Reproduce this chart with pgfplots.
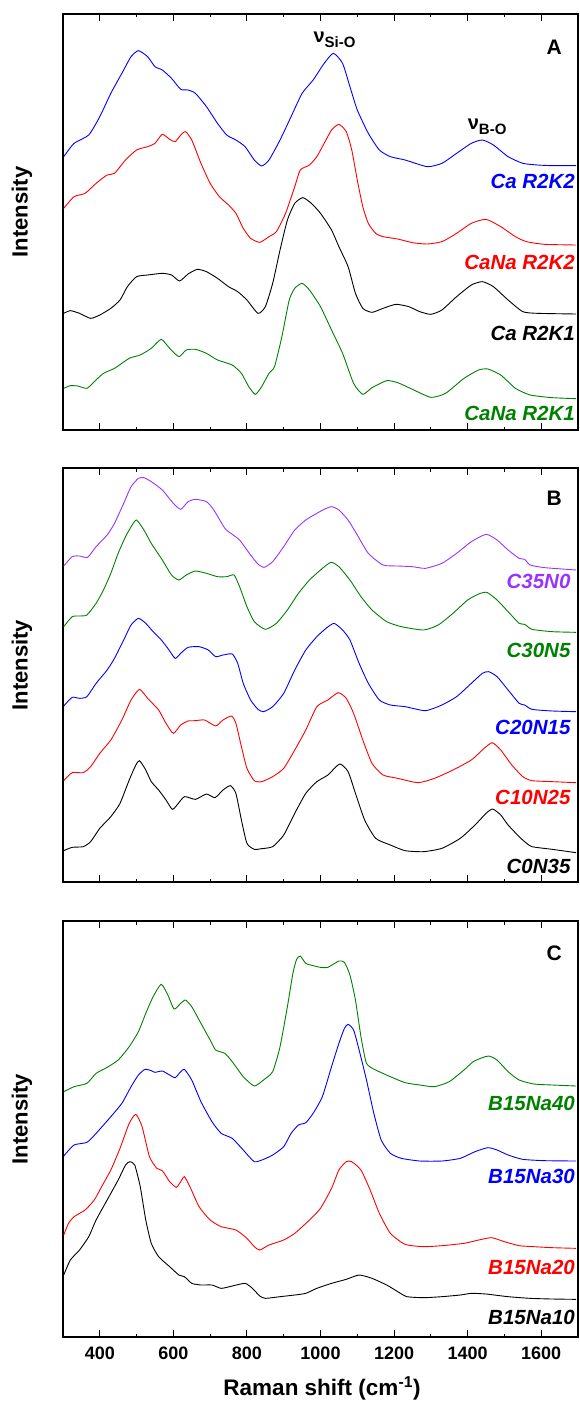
\documentclass[border=0pt]{standalone}
\usepackage{fontspec}
\setmainfont{Liberation Sans}
\usepackage{pgfplots}
\pgfplotsset{compat=1.18}

\definecolor{rblue}{RGB}{0,0,255}
\definecolor{rred}{RGB}{255,0,0}
\definecolor{rgreen}{RGB}{0,128,0}
\definecolor{rpurple}{RGB}{153,51,255}

\pgfplotsset{
  panel/.style={
    scale only axis, width=515pt,
    xmin=300, xmax=1700, ymin=0,
    xtick distance=200, minor x tick num=1,
    ytick=\empty,
    major tick length=7pt, minor tick length=3.5pt,
    axis line style={line width=1.3pt},
    every tick/.style={line width=1.1pt, black},
    every axis plot/.append style={line width=0.9pt, no marks, smooth, tension=0.35},
  },
}
\tikzset{
  lab/.style={font=\fontsize{20.5}{20.5}\selectfont\bfseries\itshape, anchor=east, inner sep=0pt},
  plab/.style={font=\fontsize{21}{21}\selectfont\bfseries, inner sep=0pt},
}

\begin{document}
\begin{tikzpicture}
\useasboundingbox (-63pt,14pt) rectangle (516pt,-1393pt);

% ---------- panel A ----------
\begin{axis}[panel, height=416pt, ymax=1248, at={(0pt,0pt)}, anchor=north west, xticklabels={}]
\addplot[rblue] coordinates {(302,820) (330,860) (370,885) (400,940) (430,1010) (460,1070) (485,1120) (505,1138) (530,1120) (550,1090) (570,1080) (595,1055) (620,1022) (640,1020) (660,1010) (690,970) (720,920) (745,885) (770,870) (795,850) (820,810) (840,792) (860,810) (890,870) (920,940) (950,1010) (980,1050) (1010,1100) (1035,1130) (1060,1100) (1080,1030) (1100,960) (1130,890) (1160,840) (1190,820) (1230,810) (1290,790) (1330,800) (1370,830) (1410,860) (1440,870) (1470,855) (1510,820) (1550,800) (1590,795) (1630,793) (1695,793)};
\addplot[rred] coordinates {(302,665) (330,700) (360,710) (390,740) (420,765) (440,770) (470,810) (500,840) (530,850) (550,860) (570,887) (590,872) (605,865) (620,885) (633,895) (650,870) (675,800) (700,740) (725,700) (750,675) (770,650) (790,605) (810,575) (835,563) (860,580) (880,595) (905,650) (930,730) (945,780) (970,795) (990,820) (1010,860) (1030,900) (1050,917) (1070,895) (1085,840) (1100,750) (1115,670) (1130,620) (1150,590) (1170,580) (1210,573) (1250,562) (1290,558) (1330,565) (1370,590) (1410,620) (1450,632) (1490,610) (1530,580) (1560,565) (1610,557) (1695,555)};
\addplot[black] coordinates {(302,350) (320,358) (345,350) (375,335) (400,345) (430,365) (455,390) (475,430) (500,460) (530,465) (570,470) (595,465) (617,447) (640,468) (665,482) (690,475) (720,455) (750,430) (775,415) (800,390) (830,350) (850,370) (870,440) (890,540) (910,630) (930,680) (952,697) (975,680) (1000,650) (1030,600) (1050,550) (1075,490) (1095,410) (1115,365) (1140,353) (1170,365) (1205,377) (1240,370) (1270,355) (1300,347) (1330,360) (1370,400) (1410,435) (1440,445) (1470,430) (1510,390) (1550,355) (1590,350) (1695,348)};
\addplot[rgreen] coordinates {(302,125) (320,133) (340,132) (365,125) (385,145) (410,170) (440,185) (480,215) (510,225) (540,245) (567,272) (590,245) (615,220) (635,240) (660,242) (690,230) (720,210) (760,195) (785,170) (805,130) (823,107) (840,130) (860,170) (875,190) (895,280) (915,390) (930,425) (950,440) (970,420) (1000,370) (1030,300) (1060,230) (1090,140) (1115,107) (1140,127) (1180,148) (1210,142) (1250,122) (1300,98) (1340,110) (1390,155) (1430,180) (1455,183) (1490,165) (1530,125) (1570,105) (1630,97) (1695,94)};
\node[lab, text=rblue] at (axis cs:1692,747) {Ca R2K2};
\node[lab, text=rred] at (axis cs:1692,504) {CaNa R2K2};
\node[lab, text=black] at (axis cs:1692,291) {Ca R2K1};
\node[lab, text=rgreen] at (axis cs:1692,51) {CaNa R2K1};
\node[plab] at (axis cs:1635,1149) {A};
\node[font=\fontsize{20}{20}\selectfont\bfseries, inner sep=0pt] at (axis cs:1038,1171) {ν{\fontsize{15}{15}\selectfont\raisebox{-5pt}{Si-O}}};
\node[font=\fontsize{20}{20}\selectfont\bfseries, inner sep=0pt] at (axis cs:1453,909) {ν{\fontsize{15}{15}\selectfont\raisebox{-5pt}{B-O}}};
\end{axis}

% ---------- panel B ----------
\begin{axis}[panel, height=414pt, ymax=1242, at={(0pt,-454pt)}, anchor=north west, xticklabels={}]
\addplot[rpurple] coordinates {(302,948) (325,976) (345,978) (367,974) (390,1006) (420,1041) (440,1076) (465,1136) (485,1186) (505,1211) (520,1213) (540,1201) (570,1176) (600,1136) (620,1118) (640,1141) (660,1148) (690,1141) (710,1116) (740,1061) (760,1043) (780,1026) (810,981) (830,954) (847,944) (870,961) (900,1006) (930,1056) (960,1086) (990,1106) (1010,1118) (1030,1126) (1050,1116) (1075,1086) (1100,1041) (1130,986) (1170,951) (1210,948) (1250,946) (1285,941) (1330,956) (1370,986) (1410,1021) (1450,1043) (1480,1026) (1510,996) (1540,971) (1555,968) (1570,951) (1610,943) (1695,936)};
\addplot[rgreen] coordinates {(302,766) (325,796) (345,798) (365,801) (390,836) (410,876) (430,926) (450,986) (470,1036) (488,1071) (500,1086) (520,1056) (540,1016) (570,966) (595,921) (615,906) (635,921) (660,933) (690,926) (720,916) (745,916) (765,921) (780,886) (800,826) (820,781) (850,758) (880,776) (910,816) (940,866) (970,906) (1000,936) (1028,959) (1050,946) (1080,906) (1110,856) (1140,816) (1180,781) (1220,766) (1280,756) (1320,771) (1360,806) (1400,846) (1430,864) (1452,869) (1480,846) (1510,811) (1540,776) (1555,773) (1575,758) (1630,751) (1695,749)};
\addplot[rblue] coordinates {(302,528) (325,554) (345,551) (365,556) (390,596) (420,636) (440,671) (465,726) (485,771) (505,791) (525,776) (545,751) (565,729) (585,701) (605,671) (620,686) (640,704) (670,706) (695,696) (715,676) (735,681) (760,684) (775,656) (790,596) (810,546) (830,518) (845,511) (870,526) (900,566) (930,636) (960,696) (990,736) (1015,761) (1037,776) (1060,756) (1080,726) (1105,656) (1130,596) (1160,546) (1190,531) (1230,526) (1285,514) (1330,531) (1370,556) (1410,596) (1440,626) (1457,631) (1480,616) (1510,576) (1540,536) (1555,531) (1575,518) (1630,513) (1695,511)};
\addplot[rred] coordinates {(302,304) (325,328) (355,328) (375,346) (400,386) (430,426) (460,486) (485,546) (508,578) (530,551) (560,516) (580,476) (600,446) (620,471) (640,483) (660,484) (685,486) (715,468) (735,486) (758,498) (770,476) (785,406) (800,341) (820,304) (840,301) (870,316) (900,341) (930,396) (960,456) (990,526) (1020,546) (1048,568) (1070,551) (1090,506) (1115,426) (1140,356) (1170,321) (1210,311) (1265,298) (1310,311) (1360,336) (1410,366) (1445,401) (1467,418) (1490,396) (1520,351) (1550,316) (1575,304) (1630,301) (1695,298)};
\addplot[black] coordinates {(302,94) (325,104) (355,106) (375,121) (400,161) (430,196) (455,236) (480,306) (498,351) (508,364) (525,336) (540,301) (560,276) (580,246) (597,218) (610,231) (630,256) (660,248) (690,264) (713,253) (735,276) (755,289) (770,266) (785,186) (800,116) (820,98) (840,100) (870,106) (900,141) (930,206) (960,266) (990,301) (1020,321) (1052,354) (1075,331) (1095,266) (1120,186) (1150,131) (1190,111) (1230,94) (1280,91) (1330,101) (1380,131) (1420,171) (1450,206) (1468,219) (1490,201) (1510,171) (1540,136) (1555,121) (1575,106) (1630,98) (1695,88)};
\node[lab, text=rpurple] at (axis cs:1680,903) {C35N0};
\node[lab, text=rgreen] at (axis cs:1680,696) {C30N5};
\node[lab, text=rblue] at (axis cs:1680,465) {C20N15};
\node[lab, text=rred] at (axis cs:1680,255) {C10N25};
\node[lab, text=black] at (axis cs:1680,48) {C0N35};
\node[plab] at (axis cs:1635,1150) {B};
\end{axis}

% ---------- panel C ----------
\begin{axis}[panel, height=416pt, ymax=1248, at={(0pt,-907pt)}, anchor=north west,
  xticklabel style={font=\fontsize{18}{18}\selectfont\bfseries, yshift=-6pt},
  /pgf/number format/assume math mode=true,
  /pgf/number format/1000 sep={}]
\addplot[rgreen] coordinates {(302,736) (330,751) (365,761) (390,791) (420,809) (450,831) (480,871) (505,916) (525,971) (545,1021) (567,1058) (585,1026) (602,984) (620,1001) (633,1011) (650,991) (675,941) (700,891) (715,861) (740,851) (760,826) (790,781) (820,753) (845,771) (870,796) (890,871) (910,991) (925,1091) (935,1133) (945,1143) (960,1121) (980,1114) (1000,1109) (1020,1109) (1050,1128) (1065,1124) (1080,1086) (1095,1011) (1110,901) (1125,821) (1150,801) (1190,781) (1230,763) (1270,756) (1310,751) (1350,766) (1390,801) (1415,826) (1440,838) (1458,843) (1480,831) (1510,796) (1540,771) (1580,759) (1630,756) (1695,753)};
\addplot[rblue] coordinates {(302,543) (330,576) (365,584) (390,611) (430,661) (460,701) (485,751) (505,786) (523,803) (540,799) (550,794) (570,798) (590,786) (605,778) (620,796) (630,803) (650,771) (675,706) (705,646) (730,611) (760,596) (790,561) (820,526) (845,533) (870,546) (900,571) (920,611) (940,636) (960,643) (980,671) (1005,721) (1030,811) (1050,881) (1065,926) (1075,938) (1090,921) (1105,861) (1125,771) (1145,671) (1165,591) (1190,551) (1220,536) (1270,528) (1330,528) (1380,536) (1420,556) (1455,568) (1480,561) (1510,546) (1550,533) (1610,529) (1695,528)};
\addplot[rred] coordinates {(302,306) (315,341) (330,361) (360,381) (385,411) (405,451) (430,501) (455,566) (480,641) (498,668) (515,631) (535,541) (555,506) (570,499) (590,466) (608,449) (620,466) (630,481) (645,451) (670,391) (700,351) (730,331) (770,321) (800,296) (820,271) (835,261) (860,276) (900,291) (930,311) (970,351) (1000,386) (1030,446) (1050,501) (1070,526) (1085,526) (1110,501) (1135,441) (1160,371) (1190,311) (1230,278) (1280,271) (1330,274) (1390,281) (1430,291) (1465,298) (1500,286) (1540,274) (1580,271) (1630,268) (1695,266)};
\addplot[black] coordinates {(302,186) (320,231) (345,261) (370,301) (390,351) (420,411) (450,471) (470,516) (482,526) (495,516) (510,451) (525,351) (540,281) (560,241) (590,211) (615,186) (630,181) (650,161) (675,156) (705,156) (730,146) (760,153) (795,161) (815,146) (835,123) (850,116) (890,121) (930,126) (960,131) (990,146) (1030,161) (1070,173) (1105,186) (1140,176) (1180,156) (1210,136) (1235,121) (1280,118) (1330,121) (1380,126) (1410,131) (1450,129) (1510,121) (1570,116) (1630,114) (1695,113)};
\node[lab, text=rgreen] at (axis cs:1692,702) {B15Na40};
\node[lab, text=rblue] at (axis cs:1692,483) {B15Na30};
\node[lab, text=rred] at (axis cs:1692,210) {B15Na20};
\node[lab, text=black] at (axis cs:1692,60) {B15Na10};
\node[plab] at (axis cs:1635,1152) {C};
\end{axis}

% axis titles
\node[rotate=90, font=\fontsize{22}{22}\selectfont\bfseries] at (-41pt,-198pt) {Intensity};
\node[rotate=90, font=\fontsize{22}{22}\selectfont\bfseries] at (-41pt,-651pt) {Intensity};
\node[rotate=90, font=\fontsize{22}{22}\selectfont\bfseries] at (-41pt,-1105pt) {Intensity};
\node[anchor=base, font=\fontsize{22.5}{22.5}\selectfont\bfseries] at (259pt,-1381pt) {Raman shift (cm\textsuperscript{-1})};
\end{tikzpicture}
\end{document}
